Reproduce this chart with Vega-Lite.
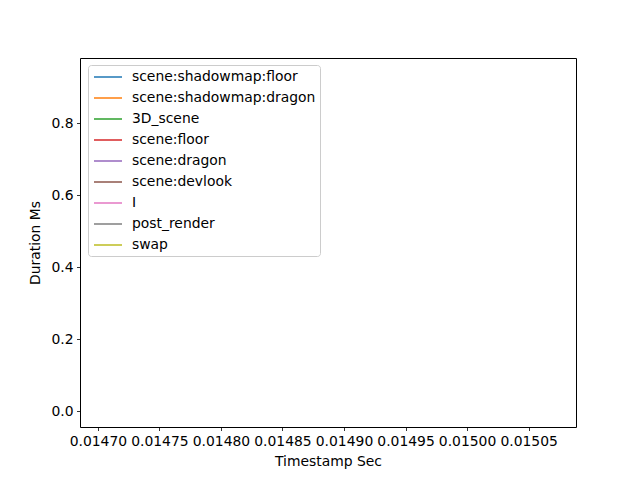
{
  "$schema": "https://vega.github.io/schema/vega-lite/v6.json",
  "width": 496,
  "height": 369,
  "autosize": "none",
  "padding": {"left": 80, "top": 58, "right": 64, "bottom": 53},
  "background": "white",
  "config": {
    "view": {"stroke": "black", "strokeWidth": 1},
    "font": "DejaVu Sans",
    "axis": {
      "grid": false,
      "domain": false,
      "tickColor": "black",
      "tickSize": 3.5,
      "tickWidth": 0.8,
      "labelFont": "DejaVu Sans",
      "labelFontSize": 13.9,
      "labelColor": "black",
      "titleFont": "DejaVu Sans",
      "titleFontSize": 13.9,
      "titleFontWeight": "normal",
      "titleColor": "black",
      "labelPadding": 3.5
    }
  },
  "data": {
    "values": [
      {"timestamp_sec": 0.0149, "duration_ms": 0.5, "name": "scene:shadowmap:floor"},
      {"timestamp_sec": 0.0149, "duration_ms": 0.5, "name": "scene:shadowmap:dragon"},
      {"timestamp_sec": 0.0149, "duration_ms": 0.5, "name": "3D_scene"},
      {"timestamp_sec": 0.0149, "duration_ms": 0.5, "name": "scene:floor"},
      {"timestamp_sec": 0.0149, "duration_ms": 0.5, "name": "scene:dragon"},
      {"timestamp_sec": 0.0149, "duration_ms": 0.5, "name": "scene:devlook"},
      {"timestamp_sec": 0.0149, "duration_ms": 0.5, "name": "I"},
      {"timestamp_sec": 0.0149, "duration_ms": 0.5, "name": "post_render"},
      {"timestamp_sec": 0.0149, "duration_ms": 0.5, "name": "swap"}
    ]
  },
  "mark": {"type": "line", "strokeWidth": 1.5},
  "encoding": {
    "x": {
      "field": "timestamp_sec",
      "type": "quantitative",
      "title": "Timestamp Sec",
      "scale": {"domain": [0.0146855, 0.0150885], "nice": false, "zero": false},
      "axis": {"values": [0.0147, 0.01475, 0.0148, 0.01485, 0.0149, 0.01495, 0.015, 0.01505], "format": ".5f", "titlePadding": 7}
    },
    "y": {
      "field": "duration_ms",
      "type": "quantitative",
      "title": "Duration Ms",
      "scale": {"domain": [-0.0444, 0.9806], "nice": false, "zero": false},
      "axis": {"values": [0, 0.2, 0.4, 0.6, 0.8], "format": ".1f", "titlePadding": 8}
    },
    "color": {
      "field": "name",
      "type": "nominal",
      "sort": null,
      "scale": {
        "domain": ["scene:shadowmap:floor", "scene:shadowmap:dragon", "3D_scene", "scene:floor", "scene:dragon", "scene:devlook", "I", "post_render", "swap"],
        "range": ["#1f77b4", "#ff7f0e", "#2ca02c", "#d62728", "#9467bd", "#8c564b", "#e377c2", "#7f7f7f", "#bcbd22"]
      },
      "legend": {
        "title": null,
        "orient": "none",
        "legendX": 8,
        "legendY": 7,
        "symbolType": "M-2,0L2,0",
        "symbolSize": 196,
        "symbolOffset": 8,
        "symbolStrokeWidth": 1.5,
        "labelFont": "DejaVu Sans",
        "labelFontSize": 13.9,
        "labelColor": "black",
        "labelLimit": 0,
        "labelOffset": 16,
        "rowPadding": 6,
        "padding": 4,
        "strokeColor": "#cccccc",
        "fillColor": "white",
        "cornerRadius": 3
      }
    }
  }
}
